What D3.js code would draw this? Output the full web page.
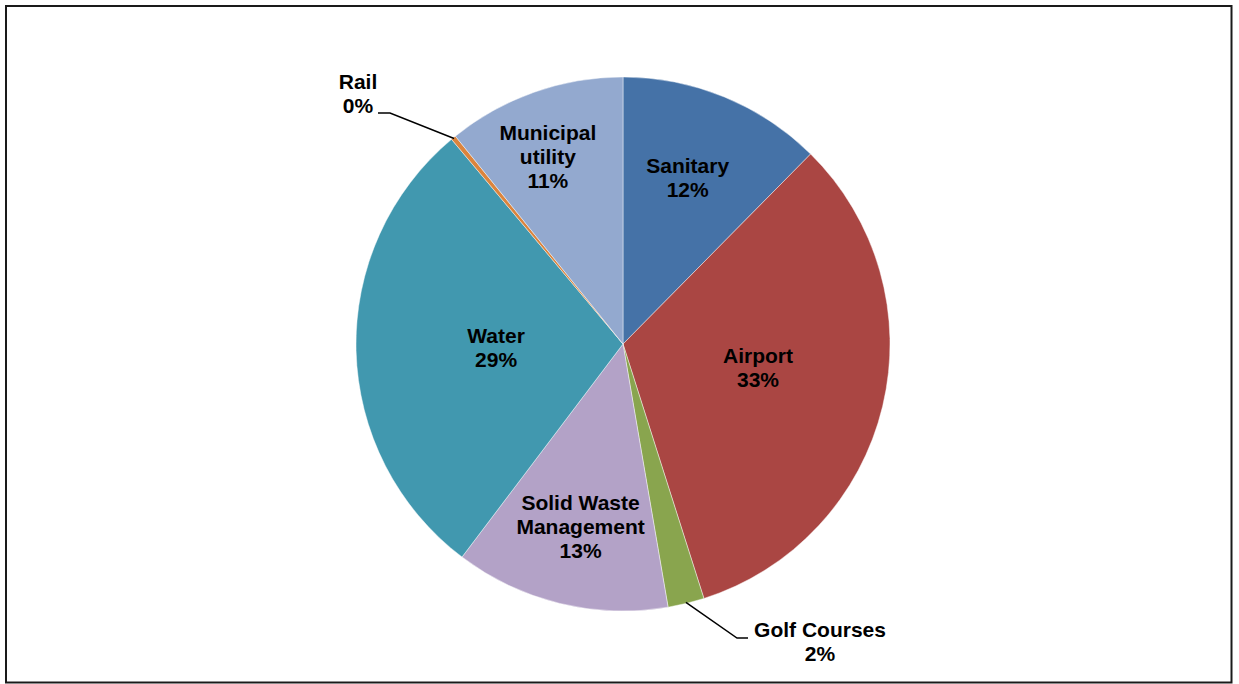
<!DOCTYPE html>
<html>
<head>
<meta charset="utf-8">
<script src="https://cdn.jsdelivr.net/npm/d3@7"></script>
<style>
  html, body { margin: 0; padding: 0; background: #fff; }
  svg { display: block; }
  .lbl { font-family: "Liberation Sans", Arial, sans-serif; font-weight: bold; font-size: 21px; fill: #000; }
</style>
</head>
<body>
<svg id="chart" width="1239" height="684"></svg>
<script>
// Share of spending by sector (percent), clockwise from 12 o'clock
const categories = ["Sanitary", "Airport", "Golf Courses", "Solid Waste Management", "Water", "Rail", "Municipal utility"];
const shares = [12.4, 32.7, 2.2, 13.0, 28.6, 0.3, 10.8];
const colors = ["#4572A7", "#AA4643", "#89A54E", "#B3A2C7", "#4198AF", "#DB843D", "#93A9CF"];

// Label text split into lines
const labelLines = [
  ["Sanitary"],
  ["Airport"],
  ["Golf Courses"],
  ["Solid Waste", "Management"],
  ["Water"],
  ["Rail"],
  ["Municipal", "utility"]
];

const W = 1239, H = 684;
const cx = 623, cy = 344, R = 267;
const lineH = 24;
const capHalf = 7.5;

// Label placement: inside labels are centred at a radius along the slice's
// mid-angle (nudged by a small angle in degrees); outside labels use a leader
// line with an elbow and a text anchor (first baseline).
const layout = [
  { r: 178.6, nudge: -1.1 },
  { r: 137, nudge: -3.8 },
  { outside: true, elbow: [737, 638], end: [748, 638], text: [820, 637] },
  { r: 187.5, nudge: -0.6 },
  { r: 127, nudge: -0.25 },
  { outside: true, elbow: [390, 113], end: [378, 113], text: [358, 89] },
  { r: 202, nudge: -2.4 }
];

const svg = d3.select("#chart");

// Outer frame
svg.append("rect")
  .attr("x", 6).attr("y", 6)
  .attr("width", W - 7.5 - 6).attr("height", H - 1.5 - 6)
  .attr("fill", "none").attr("stroke", "#1a1a1a").attr("stroke-width", 2);

const pie = d3.pie().sort(null).value(d => d)
  .startAngle(0).endAngle(2 * Math.PI);
const arcs = pie(shares);

const arc = d3.arc().innerRadius(0).outerRadius(R);

const g = svg.append("g").attr("transform", `translate(${cx},${cy})`);

g.selectAll("path.slice")
  .data(arcs)
  .join("path")
  .attr("class", "slice")
  .attr("d", arc)
  .attr("fill", (d, i) => colors[i])
  .attr("stroke", "#ffffff")
  .attr("stroke-opacity", 0.55)
  .attr("stroke-width", 0.8);

const fmt = d3.format(".0f");
const total = d3.sum(shares);

function polar(angle, r) {
  return [Math.sin(angle) * r, -Math.cos(angle) * r];
}

arcs.forEach((a, i) => {
  const L = layout[i];
  const lines = labelLines[i].concat([fmt(a.data / total * 100) + "%"]);
  const mid = (a.startAngle + a.endAngle) / 2;
  const t = g.append("text").attr("class", "lbl").attr("text-anchor", "middle");
  let tx, firstBase;
  if (L.outside) {
    const p = polar(mid, R - 1);
    const elbow = [L.elbow[0] - cx, L.elbow[1] - cy];
    const end = [L.end[0] - cx, L.end[1] - cy];
    g.insert("path", "text")
      .attr("d", d3.line()([p, elbow, end]))
      .attr("fill", "none").attr("stroke", "#000").attr("stroke-width", 1.5);
    tx = L.text[0] - cx;
    firstBase = L.text[1] - cy;
  } else {
    const c = polar(mid + L.nudge * Math.PI / 180, L.r);
    tx = c[0];
    firstBase = c[1] - (lines.length - 1) * lineH / 2 + capHalf;
  }
  lines.forEach((s, k) => {
    t.append("tspan").attr("x", tx).attr("y", firstBase + k * lineH).text(s);
  });
});
</script>
</body>
</html>
